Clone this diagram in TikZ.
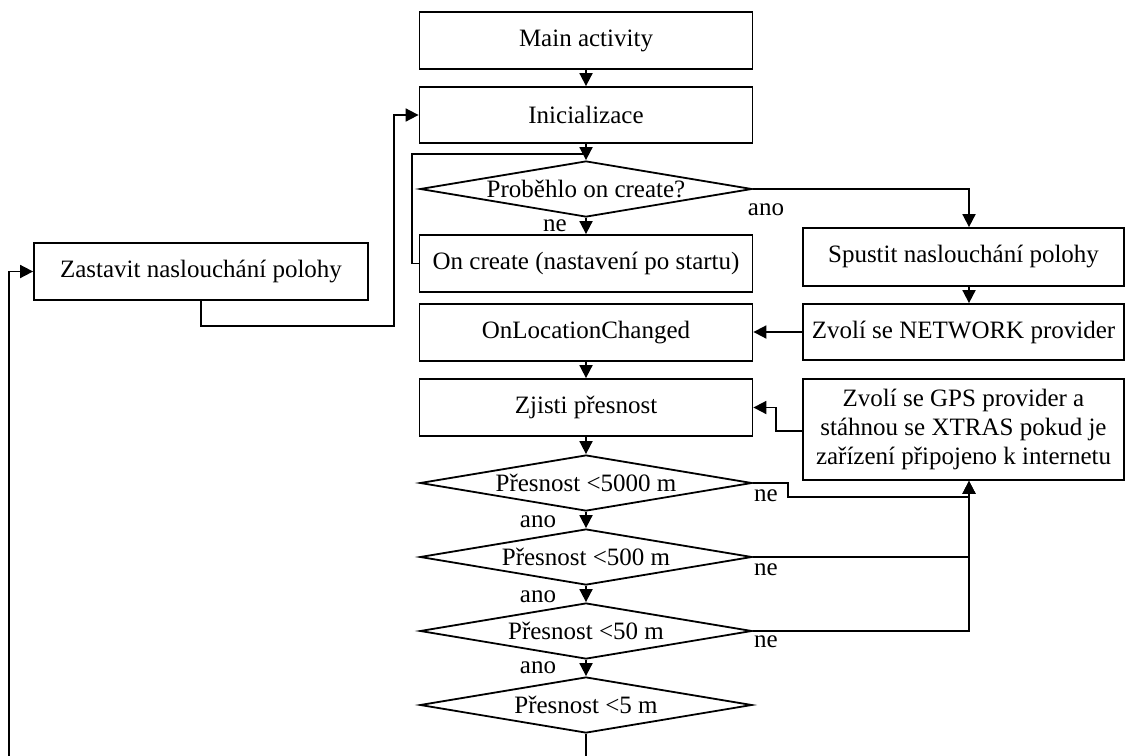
\documentclass[tikz,border=0pt]{standalone}
\usepackage{fontspec}
\setmainfont{Liberation Serif}
\usetikzlibrary{arrows.meta,shapes.geometric}
\newcommand{\dtxt}[1]{\makebox[0pt]{#1}}
\begin{document}
\begin{tikzpicture}[x=1pt,y=-1pt,
  every node/.style={font=\fontsize{25}{29}\selectfont},
  box/.style={draw, line width=1.8pt, rectangle, inner sep=0pt, align=center},
  decn/.style={draw, line width=1.8pt, diamond, inner sep=0pt, minimum width=332pt, minimum height=56pt},
  lbl/.style={inner sep=0pt},
  conn/.style={line width=1.8pt},
  arr/.style={conn, -{Triangle[length=13pt,width=13pt]}},
]
\useasboundingbox (0,0) rectangle (1126,755);
\fill[white] (0,0) rectangle (1126,755);
\clip (0,0) rectangle (1126,755);

% main column
\node[box, minimum width=333pt, minimum height=57pt] (main) at (586,40.5) {Main activity};
\node[box, minimum width=333pt, minimum height=56pt] (init) at (586,115) {Inicializace};
\node[decn] (d1) at (586,189) {\dtxt{Proběhlo on create?}};
\node[box, minimum width=333pt, minimum height=57pt] (oncreate) at (586,263.5) {On create (nastavení po startu)};
\node[box, minimum width=333pt, minimum height=57pt] (olc) at (586,332.5) {OnLocationChanged};
\node[box, minimum width=333pt, minimum height=57pt] (zjisti) at (586,407.5) {Zjisti přesnost};
\node[decn] (d5000) at (586,483) {\dtxt{Přesnost <5000 m}};
\node[decn] (d500) at (586,557) {\dtxt{Přesnost <500 m}};
\node[decn] (d50) at (586,631) {\dtxt{Přesnost <50 m}};
\node[decn] (d5) at (586,705) {\dtxt{Přesnost <5 m}};

% right column
\node[box, minimum width=321pt, minimum height=58pt] (spustit) at (963.5,257) {Spustit naslouchání polohy};
\node[box, minimum width=321pt, minimum height=56pt] (network) at (963.5,332) {Zvolí se NETWORK provider};
\node[box, minimum width=321pt, minimum height=101pt] (gps) at (963.5,429.5) {Zvolí se GPS provider a\\stáhnou se XTRAS pokud je\\zařízení připojeno k internetu};

% left
\node[box, minimum width=334pt, minimum height=57pt] (zastavit) at (201,271.5) {Zastavit naslouchání polohy};

% labels
\node[lbl] (ne1) at (555,226) {ne};
\node[lbl] (ano1) at (766,210) {ano};
\node[lbl] (ano2) at (538,522) {ano};
\node[lbl] (ano3) at (538,597) {ano};
\node[lbl] (ano4) at (538,668) {ano};
\node[lbl] (ne2) at (766,496) {ne};
\node[lbl] (ne3) at (766,570) {ne};
\node[lbl] (ne4) at (766,642) {ne};

\coordinate (gpsin) at ([xshift=5.5pt]gps.south);
\coordinate (bot) at (9,775);

% connectors
\draw[arr] (main) -- (init);
\draw[conn] (oncreate.west) -- ++(-7,0) |- ([yshift=6pt]d1.north);
\draw[arr] (init) -- (d1.north);
\draw[arr] (d1.south) -- (oncreate.north);
\draw[arr] (d1.east) -| ([xshift=5.5pt]spustit.north);
\draw[arr] ([xshift=5.5pt]spustit.south) -- ([xshift=5.5pt]network.north);
\draw[arr] (network.west) -- (network.west -| olc.east);
\draw[arr] (olc) -- (zjisti);
\draw[arr] ([yshift=-1.5pt]gps.west) -- ++(-26,0) |- (zjisti.east);
\draw[arr] (zjisti) -- (d5000.north);
\draw[arr] (d5000.south) -- (d500.north);
\draw[arr] (d500.south) -- (d50.north);
\draw[arr] (d50.south) -- (d5.north);
\draw[arr] (d5000.east) -- ++(35,0) -- ++(0,14) -| (gpsin);
\draw[conn] (d500.east) -- (d500.east -| gpsin);
\draw[arr] (d50.east) -| (gpsin);
\draw[arr] (d5.south) |- (bot) |- (zastavit.west);
\draw[arr] (zastavit.south) -- ++(0,25) -| ([xshift=-25pt]init.west) -- (init.west);
\end{tikzpicture}
\end{document}
